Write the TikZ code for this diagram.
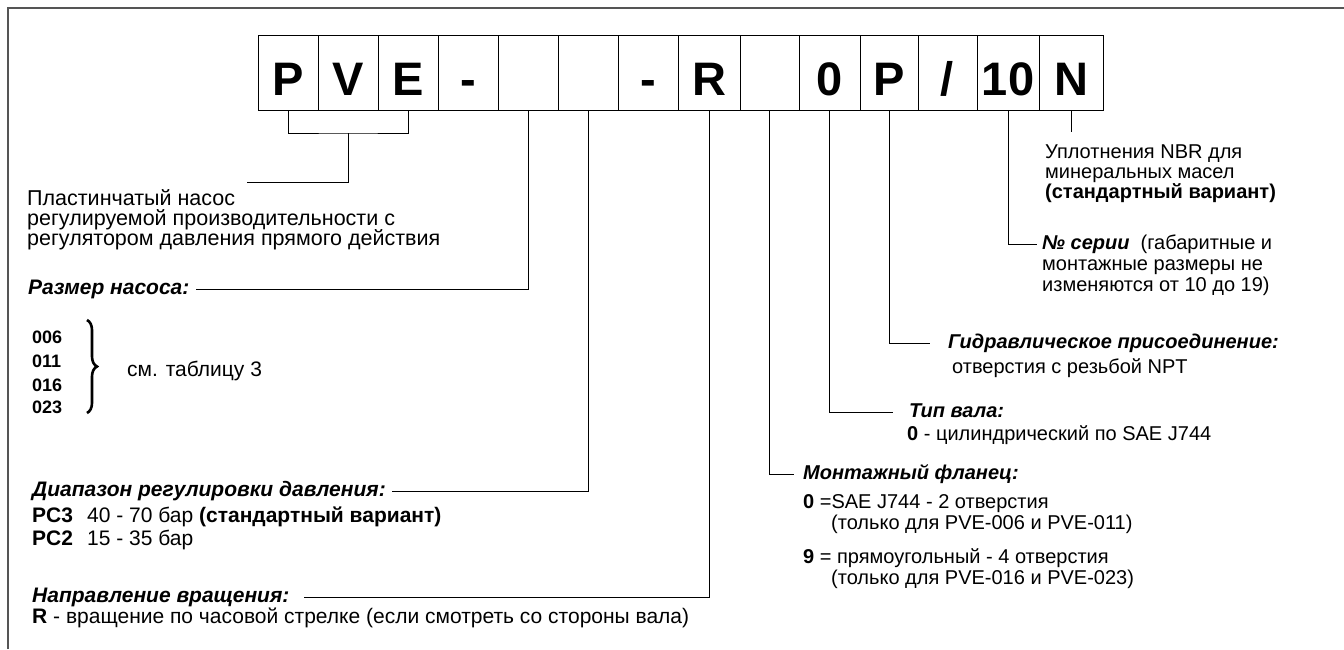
\documentclass[tikz,border=0pt]{standalone}
\usepackage{fontspec}
\setmainfont{Liberation Sans}
\usetikzlibrary{decorations.pathreplacing,calc}
\definecolor{frgray}{HTML}{555555}
\newcommand\fsA{\fontsize{20}{20}\selectfont}
\newcommand\fsL{\fontsize{21}{21}\selectfont}
\newcommand\fsT{\fontsize{21.5}{21.5}\selectfont}
\newcommand\fsB{\fontsize{18}{18}\selectfont}
\tikzset{
  box/.style={draw, line width=1pt, minimum height=75pt, inner sep=0pt,
    text height=45pt, text depth=0pt, font=\fontsize{47}{47}\selectfont\bfseries},
  txt/.style={anchor=base west, inner sep=0pt, text height=14pt, text depth=4pt, font=\fsA},
  hd/.style={txt, font=\fsA\bfseries\itshape},
  ltxt/.style={txt, font=\fsL},
  lhd/.style={txt, font=\fsL\bfseries\itshape},
  lbd/.style={txt, font=\fsL\bfseries},
  ttxt/.style={txt, font=\fsT},
  code/.style={txt, font=\fsB\bfseries},
  conn/.style={line width=1pt},
  frameline/.style={line width=2.2pt, draw=frgray}
}
\begin{document}
\begin{tikzpicture}[x=1pt,y=1pt]
\useasboundingbox (0,0) rectangle (1344,-649);
\draw[frameline] (8,-649) -- (8,-8) -- (1344,-8);

% code boxes
\node[box, minimum width=60pt] (b1) at (288,-72.5) {P};
\node[box, minimum width=60pt] (b2) at (348,-72.5) {V};
\node[box, minimum width=60pt] (b3) at (408,-72.5) {E};
\node[box, minimum width=60pt] (b4) at (468,-72.5) {-};
\node[box, minimum width=60pt] (b5) at (528,-72.5) {};
\node[box, minimum width=60pt] (b6) at (588,-72.5) {};
\node[box, minimum width=60pt] (b7) at (648,-72.5) {-};
\node[box, minimum width=62pt] (b8) at (709,-72.5) {R};
\node[box, minimum width=59pt] (b9) at (769.5,-72.5) {};
\node[box, minimum width=61pt] (b10) at (829.5,-72.5) {0};
\node[box, minimum width=58pt] (b11) at (889,-72.5) {P};
\node[box, minimum width=59pt] (b12) at (947.5,-72.5) {/};
\node[box, minimum width=62pt] (b13) at (1008,-72.5) {10};
\node[box, minimum width=64pt] (b14) at (1071,-72.5) {N};

% left texts
\node[ttxt] (pl1) at (27,-205) {Пластинчатый насос};
\node[ttxt] (pl2) at (27,-225) {регулируемой производительности с};
\node[ttxt] (pl3) at (27,-245) {регулятором давления прямого действия};
\coordinate (brk) at (348,-133);
\coordinate (pe) at ($(pl1.north east)+(12,8)$);

\node[lhd] (razm) at (28,-294) {Размер насоса:};
\node[code] (s1) at (32,-343) {006};
\node[code] (s2) at (32,-367) {011};
\node[code] (s3) at (32,-391) {016};
\node[code] (s4) at (32,-413) {023};
\draw[decorate, decoration={brace, amplitude=10pt}, line width=2.6pt] (87,-320) -- (87,-413);
\node[ltxt] (tab) at (127,-376) {см. таблицу 3};

\node[lhd] (diap) at (32,-496) {Диапазон регулировки давления:};
\node[lbd] (pc3) at (32,-522) {PC3};
\node[ltxt] (pc3t) at (87,-522) {40 - 70 бар \textbf{(стандартный вариант)}};
\node[lbd] (pc2) at (32,-545) {PC2};
\node[ltxt] (pc2t) at (87,-545) {15 - 35 бар};

\node[lhd] (nap) at (32,-602) {Направление вращения:};
\node[ltxt] (rot) at (32,-623) {\textbf{R} - вращение по часовой стрелке (если смотреть со стороны вала)};

% right texts
\node[txt] (u1) at (1045,-158) {Уплотнения NBR для};
\node[txt] (u2) at (1045,-178) {минеральных масел};
\node[txt] (u3) at (1045,-198) {\textbf{(стандартный вариант)}};
\coordinate (nend) at (1071,-132);

\node[txt] (ser1) at (1042,-249) {\textbf{\textit{№ серии}}\ \ (габаритные и};
\node[txt] (ser2) at (1042,-270) {монтажные размеры не};
\node[txt] (ser3) at (1042,-291) {изменяются от 10 до 19)};

\node[hd] (gid) at (948,-348) {Гидравлическое присоединение:};
\node[txt] (gid2) at (952,-373) {отверстия с резьбой NPT};

\node[hd] (tip) at (909,-417) {Тип вала:};
\node[txt] (tip2) at (907,-440) {\textbf{0} - цилиндрический по SAE J744};

\node[hd] (mont) at (803,-479) {Монтажный фланец:};
\node[txt] (m1) at (803,-508) {\textbf{0} =SAE J744 - 2 отверстия};
\node[txt] (m2) at (831,-529) {(только для PVE-006 и PVE-011)};
\node[txt] (m3) at (803,-563) {\textbf{9} = прямоугольный - 4 отверстия};
\node[txt] (m4) at (831,-584) {(только для PVE-016 и PVE-023)};

% connectors
\draw[conn] (b1.south) |- (brk) -| (b3.south);
\draw[conn] (brk) |- (pe);
\draw[conn] (b5.south) |- ([xshift=6pt]razm.east);
\draw[conn] (b6.south) |- ([xshift=6pt]diap.east);
\draw[conn] (b8.south) |- ([xshift=14pt]nap.east);
\draw[conn] (b9.south) |- ([xshift=-9pt]mont.west);
\draw[conn] (b10.south) |- ([xshift=-16pt]tip.west);
\draw[conn] (b11.south) |- ([xshift=-18pt]gid.west);
\draw[conn] (b13.south) |- ([xshift=-5pt]ser1.west);
\draw[conn] (b14.south) -- (nend);
\end{tikzpicture}
\end{document}
